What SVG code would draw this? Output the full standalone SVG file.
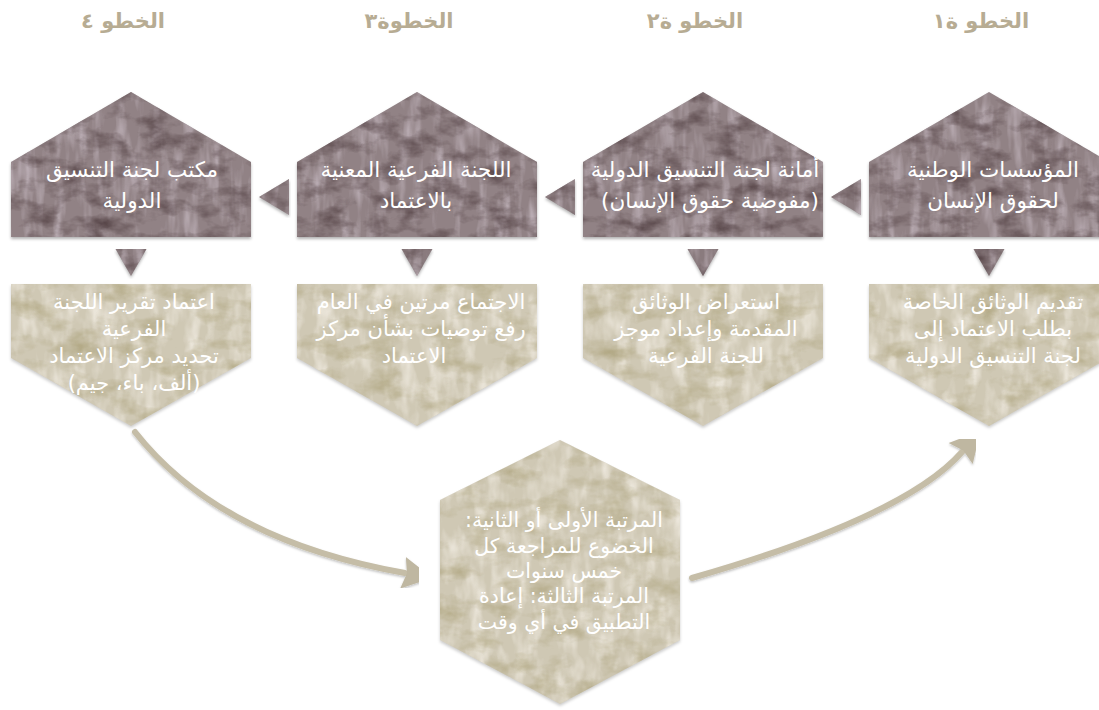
<svg xmlns="http://www.w3.org/2000/svg" width="1099" height="710" viewBox="0 0 1099 710">
<style>
  text{font-family:"DejaVu Sans","Noto Sans Arabic",sans-serif;text-anchor:middle;direction:rtl}
  .hdr{font-size:21px;font-weight:bold;fill:#b7ac93}
  .tt{font-size:21.5px;fill:#ffffff}
  .bt{font-size:21px;fill:#ffffff}
  .ht{font-size:20.5px;fill:#ffffff}
  .pm{fill:#918285;filter:url(#texM)}
  .pb{fill:#cfc8b4;filter:url(#texB)}
  .tri{fill:#8a7b7e;filter:url(#texM)}
  .arr{fill:none;stroke:#c5bda7;stroke-width:6;stroke-linecap:round;filter:url(#shA)}
  .ah{fill:#bfb7a1}
</style>
<defs>
  <filter id="texM" x="-4%" y="-4%" width="108%" height="112%" color-interpolation-filters="sRGB">
    <feTurbulence type="fractalNoise" baseFrequency="0.035 0.06" numOctaves="4" seed="7" result="n"/>
    <feColorMatrix in="n" type="matrix" values="0 0 0 0 0.33  0 0 0 0 0.26  0 0 0 0 0.27  2.0 0 0 0 -0.9" result="d"/>
    <feComposite in="d" in2="SourceAlpha" operator="in" result="d2"/>
    <feTurbulence type="fractalNoise" baseFrequency="0.09 0.02" numOctaves="3" seed="2" result="n2"/>
    <feColorMatrix in="n2" type="matrix" values="0 0 0 0 0.76  0 0 0 0 0.71  0 0 0 0 0.74  0 2.0 0 0 -0.9" result="l"/>
    <feComposite in="l" in2="SourceAlpha" operator="in" result="l2"/>
    <feGaussianBlur in="SourceAlpha" stdDeviation="1.5" result="b"/>
    <feOffset in="b" dy="2" result="bo"/>
    <feFlood flood-color="#000" flood-opacity="0.3"/>
    <feComposite in2="bo" operator="in" result="sh"/>
    <feMerge><feMergeNode in="sh"/><feMergeNode in="SourceGraphic"/><feMergeNode in="l2"/><feMergeNode in="d2"/></feMerge>
  </filter>
  <filter id="texB" x="-4%" y="-4%" width="108%" height="112%" color-interpolation-filters="sRGB">
    <feTurbulence type="fractalNoise" baseFrequency="0.03 0.05" numOctaves="4" seed="11" result="n"/>
    <feColorMatrix in="n" type="matrix" values="0 0 0 0 0.66  0 0 0 0 0.62  0 0 0 0 0.46  1.6 0 0 0 -0.75" result="d"/>
    <feComposite in="d" in2="SourceAlpha" operator="in" result="d2"/>
    <feTurbulence type="fractalNoise" baseFrequency="0.07 0.03" numOctaves="3" seed="5" result="n2"/>
    <feColorMatrix in="n2" type="matrix" values="0 0 0 0 0.94  0 0 0 0 0.92  0 0 0 0 0.88  0 2.0 0 0 -0.85" result="l"/>
    <feComposite in="l" in2="SourceAlpha" operator="in" result="l2"/>
    <feGaussianBlur in="SourceAlpha" stdDeviation="1.5" result="b"/>
    <feOffset in="b" dy="2" result="bo"/>
    <feFlood flood-color="#000" flood-opacity="0.2"/>
    <feComposite in2="bo" operator="in" result="sh"/>
    <feMerge><feMergeNode in="sh"/><feMergeNode in="SourceGraphic"/><feMergeNode in="l2"/><feMergeNode in="d2"/></feMerge>
  </filter>
  <filter id="shA" x="-5%" y="-10%" width="110%" height="120%">
    <feDropShadow dx="0" dy="1.5" stdDeviation="1" flood-color="#000" flood-opacity="0.25"/>
  </filter>
  <marker id="head" markerUnits="userSpaceOnUse" markerWidth="32" markerHeight="36" refX="2" refY="16" orient="auto" viewBox="0 0 32 32">
    <polygon class="ah" points="0,0 30,16 0,32 4,16"/>
  </marker>
</defs>

<g id="headers">
  <text class="hdr" x="981" y="28">الخطو ة١</text>
  <text class="hdr" x="695" y="28">الخطو ة٢</text>
  <text class="hdr" x="409" y="28">الخطوة٣</text>
  <text class="hdr" x="123" y="28">الخطو ٤</text>
</g>

<g id="connectors">
  <polygon class="tri" points="259,197 289,179 289,215"/>
  <polygon class="tri" points="545,197 575,179 575,215"/>
  <polygon class="tri" points="831,197 861,179 861,215"/>
  <polygon class="tri" points="115.5,249 146.5,249 131,276"/>
  <polygon class="tri" points="401.5,249 432.5,249 417,276"/>
  <polygon class="tri" points="687.5,249 718.5,249 703,276"/>
  <polygon class="tri" points="973.5,249 1004.5,249 989,276"/>
  <path class="arr" d="M135,432 Q220,540 405,573" marker-end="url(#head)"/>
  <path class="arr" d="M692,578 Q905,517 962,452" marker-end="url(#head)"/>
</g>

<g id="step1-top">
  <polygon class="pm" points="869,162 989,92 1109,162 1109,237 869,237"/>
  <text class="tt" x="993" y="177">المؤسسات الوطنية</text>
  <text class="tt" x="993" y="208">لحقوق الإنسان</text>
</g>
<g id="step2-top">
  <polygon class="pm" points="583,162 703,92 823,162 823,237 583,237"/>
  <text class="tt" x="705" y="177">أمانة لجنة التنسيق الدولية</text>
  <text class="tt" x="710" y="208">(مفوضية حقوق الإنسان)</text>
</g>
<g id="step3-top">
  <polygon class="pm" points="297,162 417,92 537,162 537,237 297,237"/>
  <text class="tt" x="416" y="177">اللجنة الفرعية المعنية</text>
  <text class="tt" x="416" y="208">بالاعتماد</text>
</g>
<g id="step4-top">
  <polygon class="pm" points="11,162 131,92 251,162 251,237 11,237"/>
  <text class="tt" x="132" y="177">مكتب لجنة التنسيق</text>
  <text class="tt" x="132" y="208">الدولية</text>
</g>

<g id="step1-bottom">
  <polygon class="pb" points="869,284 1109,284 1109,358 989,426 869,358"/>
  <text class="bt" x="993" y="309">تقديم الوثائق الخاصة</text>
  <text class="bt" x="993" y="336">بطلب الاعتماد إلى</text>
  <text class="bt" x="993" y="363">لجنة التنسيق الدولية</text>
</g>
<g id="step2-bottom">
  <polygon class="pb" points="583,284 823,284 823,358 703,426 583,358"/>
  <text class="bt" x="706" y="309">استعراض الوثائق</text>
  <text class="bt" x="706" y="336">المقدمة وإعداد موجز</text>
  <text class="bt" x="706" y="363">للجنة الفرعية</text>
</g>
<g id="step3-bottom">
  <polygon class="pb" points="297,284 537,284 537,358 417,426 297,358"/>
  <text class="bt" x="421" y="309">الاجتماع مرتين في العام</text>
  <text class="bt" x="421" y="336">رفع توصيات بشأن مركز</text>
  <text class="bt" x="414" y="363">الاعتماد</text>
</g>
<g id="step4-bottom">
  <polygon class="pb" points="11,284 251,284 251,358 131,426 11,358"/>
  <text class="bt" x="134" y="309">اعتماد تقرير اللجنة</text>
  <text class="bt" x="134" y="336">الفرعية</text>
  <text class="bt" x="134" y="363">تحديد مركز الاعتماد</text>
  <text class="bt" x="134" y="390">(ألف، باء، جيم)</text>
</g>

<g id="review">
  <polygon class="pb" points="560,440 680,500 680,640 560,704 440,640 440,500"/>
  <text class="ht" x="564" y="527">المرتبة الأولى أو الثانية:</text>
  <text class="ht" x="564" y="553">الخضوع للمراجعة كل</text>
  <text class="ht" x="564" y="578">خمس سنوات</text>
  <text class="ht" x="564" y="603">المرتبة الثالثة:  إعادة</text>
  <text class="ht" x="564" y="629">التطبيق في أي وقت</text>
</g>
</svg>
